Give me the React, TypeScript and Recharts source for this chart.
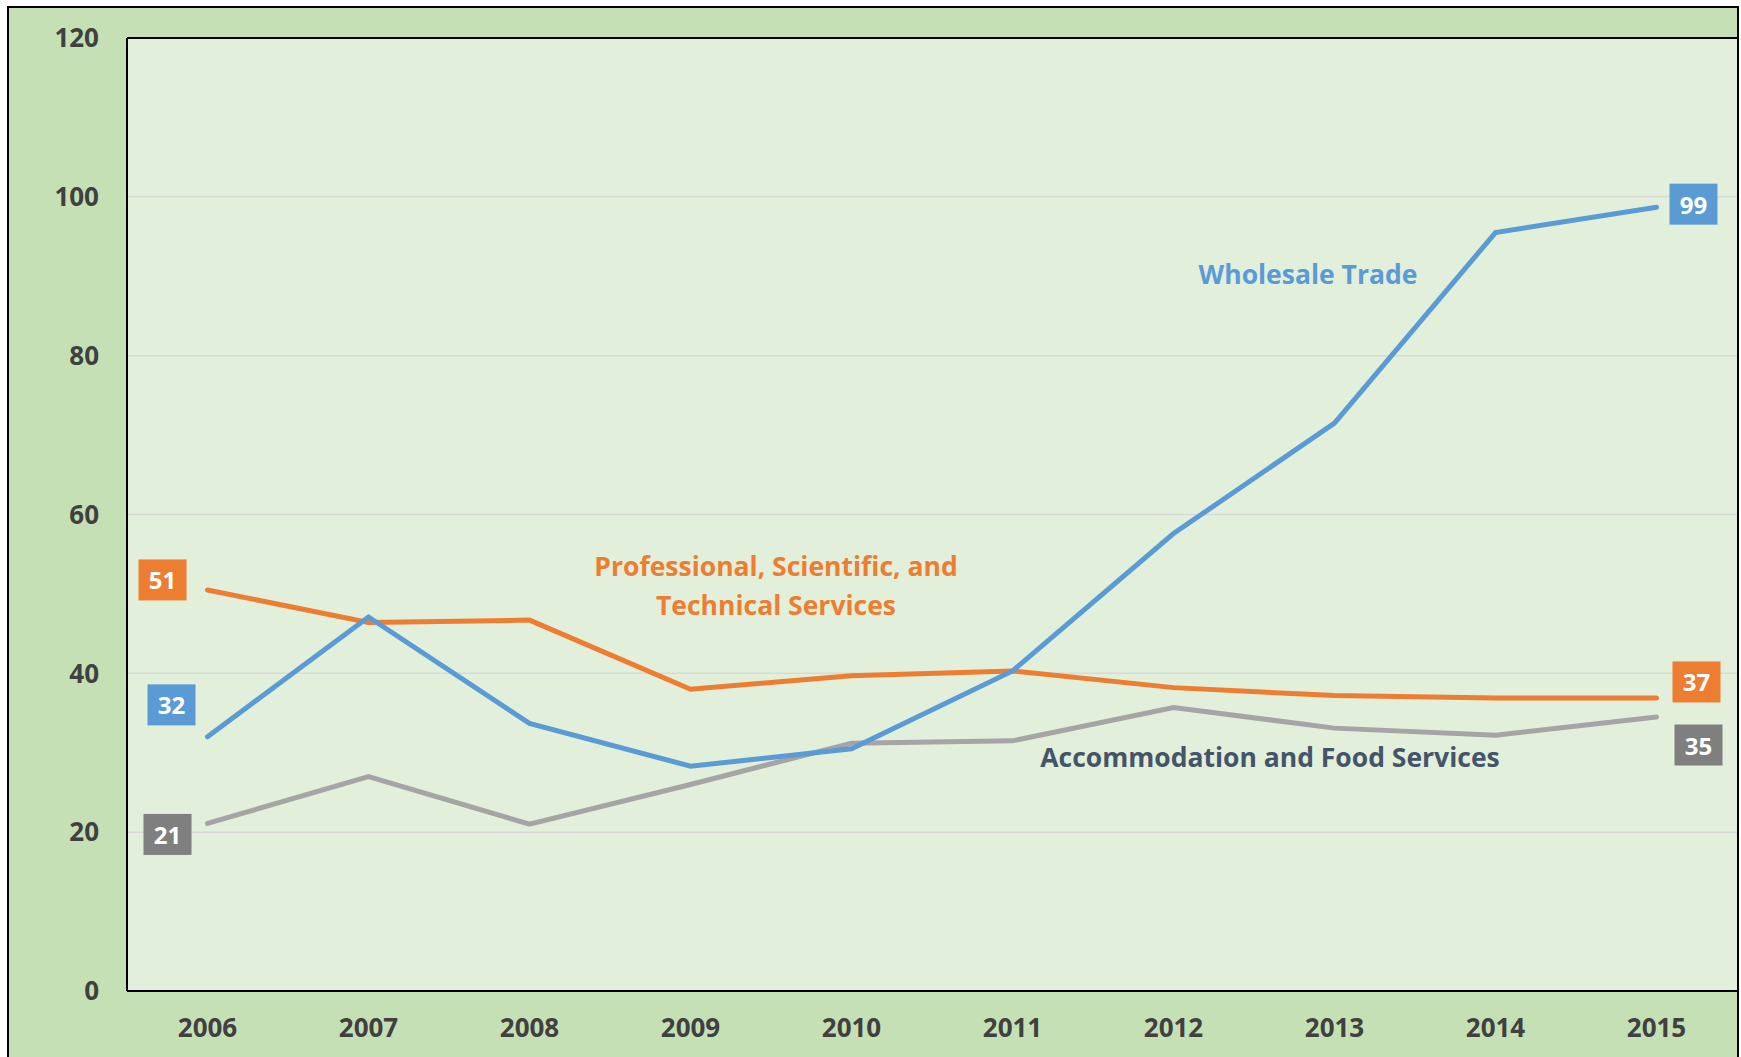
import { LineChart, Line, XAxis, YAxis, CartesianGrid, LabelList, ReferenceLine } from 'recharts';

const years = ['2006', '2007', '2008', '2009', '2010', '2011', '2012', '2013', '2014', '2015'];
const wholesale = [32.0, 47.1, 33.7, 28.3, 30.5, 40.3, 57.6, 71.5, 95.5, 98.7];
const professional = [50.5, 46.4, 46.7, 38.0, 39.7, 40.3, 38.2, 37.2, 36.9, 36.9];
const accommodation = [21.1, 27.0, 21.0, 26.0, 31.2, 31.5, 35.7, 33.1, 32.2, 34.5];
const yTicks = [0, 20, 40, 60, 80, 100, 120];

const data = years.map((year, i) => ({
    year,
    wholesale: wholesale[i],
    professional: professional[i],
    accommodation: accommodation[i],
}));

const FONT = '"Open Sans", sans-serif';

// end labels: box offsets from the first / last point of each series
const makeEndLabel = (boxColor: string, first: [number, number], last: [number, number]) => (props: any) => {
    const { x, y, index, value } = props;
    if (index !== 0 && index !== years.length - 1) return null;
    const [dx, dy] = index === 0 ? first : last;
    const cx = x + dx;
    const cy = y + dy;
    return (
        <g>
            <rect x={cx - 24} y={cy - 20.5} width={48} height={41} fill={boxColor} />
            <text x={cx} y={cy} textAnchor="middle" dominantBaseline="central" fill="#fff"
                fontFamily={FONT} fontWeight={700} fontSize={24}>
                {Math.round(value)}
            </text>
        </g>
    );
};

const App = () => {
    const tickStyle = { fill: '#404040', fontFamily: FONT, fontWeight: 700, fontSize: 26 };
    const noteStyle = { position: 'absolute' as const, transform: 'translate(-50%, -50%)', fontFamily: FONT, fontWeight: 700, fontSize: 26.5, whiteSpace: 'nowrap' as const };
    return (
        <div style={{ position: 'fixed', left: 0, top: 0, width: 1741, height: 1057, background: '#fff', overflow: 'hidden' }}>
            <div style={{
                position: 'absolute', left: 7, top: 6, width: 1732, height: 1051, boxSizing: 'border-box',
                background: '#C5E0B4', borderTop: '2px solid #000', borderLeft: '2px solid #000', borderRight: '2px solid #000',
            }} />
            <div style={{ position: 'absolute', left: 0, top: 0 }}>
                <LineChart width={1741} height={1057} data={data} margin={{ top: 38, right: 4, bottom: 0, left: 0 }}>
                    <CartesianGrid vertical={false} stroke="#D9D9D9" strokeWidth={1.5} fill="#E2EFDA" />
                    <XAxis dataKey="year" height={66} padding={{ left: 80.5, right: 80.5 }}
                        axisLine={{ stroke: '#000', strokeWidth: 2 }} tickLine={false} tickSize={0} tickMargin={28}
                        tick={tickStyle} interval={0} />
                    <YAxis width={127} domain={[0, 120]} ticks={yTicks} axisLine={{ stroke: '#000', strokeWidth: 2 }}
                        tickLine={false} tickSize={0} tickMargin={28} tick={tickStyle} />
                    <YAxis yAxisId="right" orientation="right" width={0} domain={[0, 120]} tick={false} tickLine={false}
                        axisLine={{ stroke: '#000', strokeWidth: 3 }} />
                    <ReferenceLine y={120} stroke="#000" strokeWidth={2} />
                    <Line dataKey="accommodation" stroke="#A5A5A5" strokeWidth={5} strokeLinecap="round" dot={false} isAnimationActive={false}>
                        <LabelList dataKey="accommodation" content={makeEndLabel('#7F7F7F', [-40, 11], [42, 28])} />
                    </Line>
                    <Line dataKey="professional" stroke="#ED7D31" strokeWidth={5} strokeLinecap="round" dot={false} isAnimationActive={false}>
                        <LabelList dataKey="professional" content={makeEndLabel('#ED7D31', [-45, -10], [40, -16])} />
                    </Line>
                    <Line dataKey="wholesale" stroke="#5B9BD5" strokeWidth={5} strokeLinecap="round" dot={false} isAnimationActive={false}>
                        <LabelList dataKey="wholesale" content={makeEndLabel('#5B9BD5', [-36, -32], [37, -3])} />
                    </Line>
                </LineChart>
            </div>
            <div style={{ ...noteStyle, left: 1308, top: 274, color: '#5B9BD5' }}>
                Wholesale Trade
            </div>
            <div style={{ ...noteStyle, left: 776, top: 586, color: '#ED7D31', textAlign: 'center', lineHeight: '39px' }}>
                Professional, Scientific, and<br />Technical Services
            </div>
            <div style={{ ...noteStyle, left: 1270, top: 757, color: '#44546A' }}>
                Accommodation and Food Services
            </div>
        </div>
    );
};

export default App;
